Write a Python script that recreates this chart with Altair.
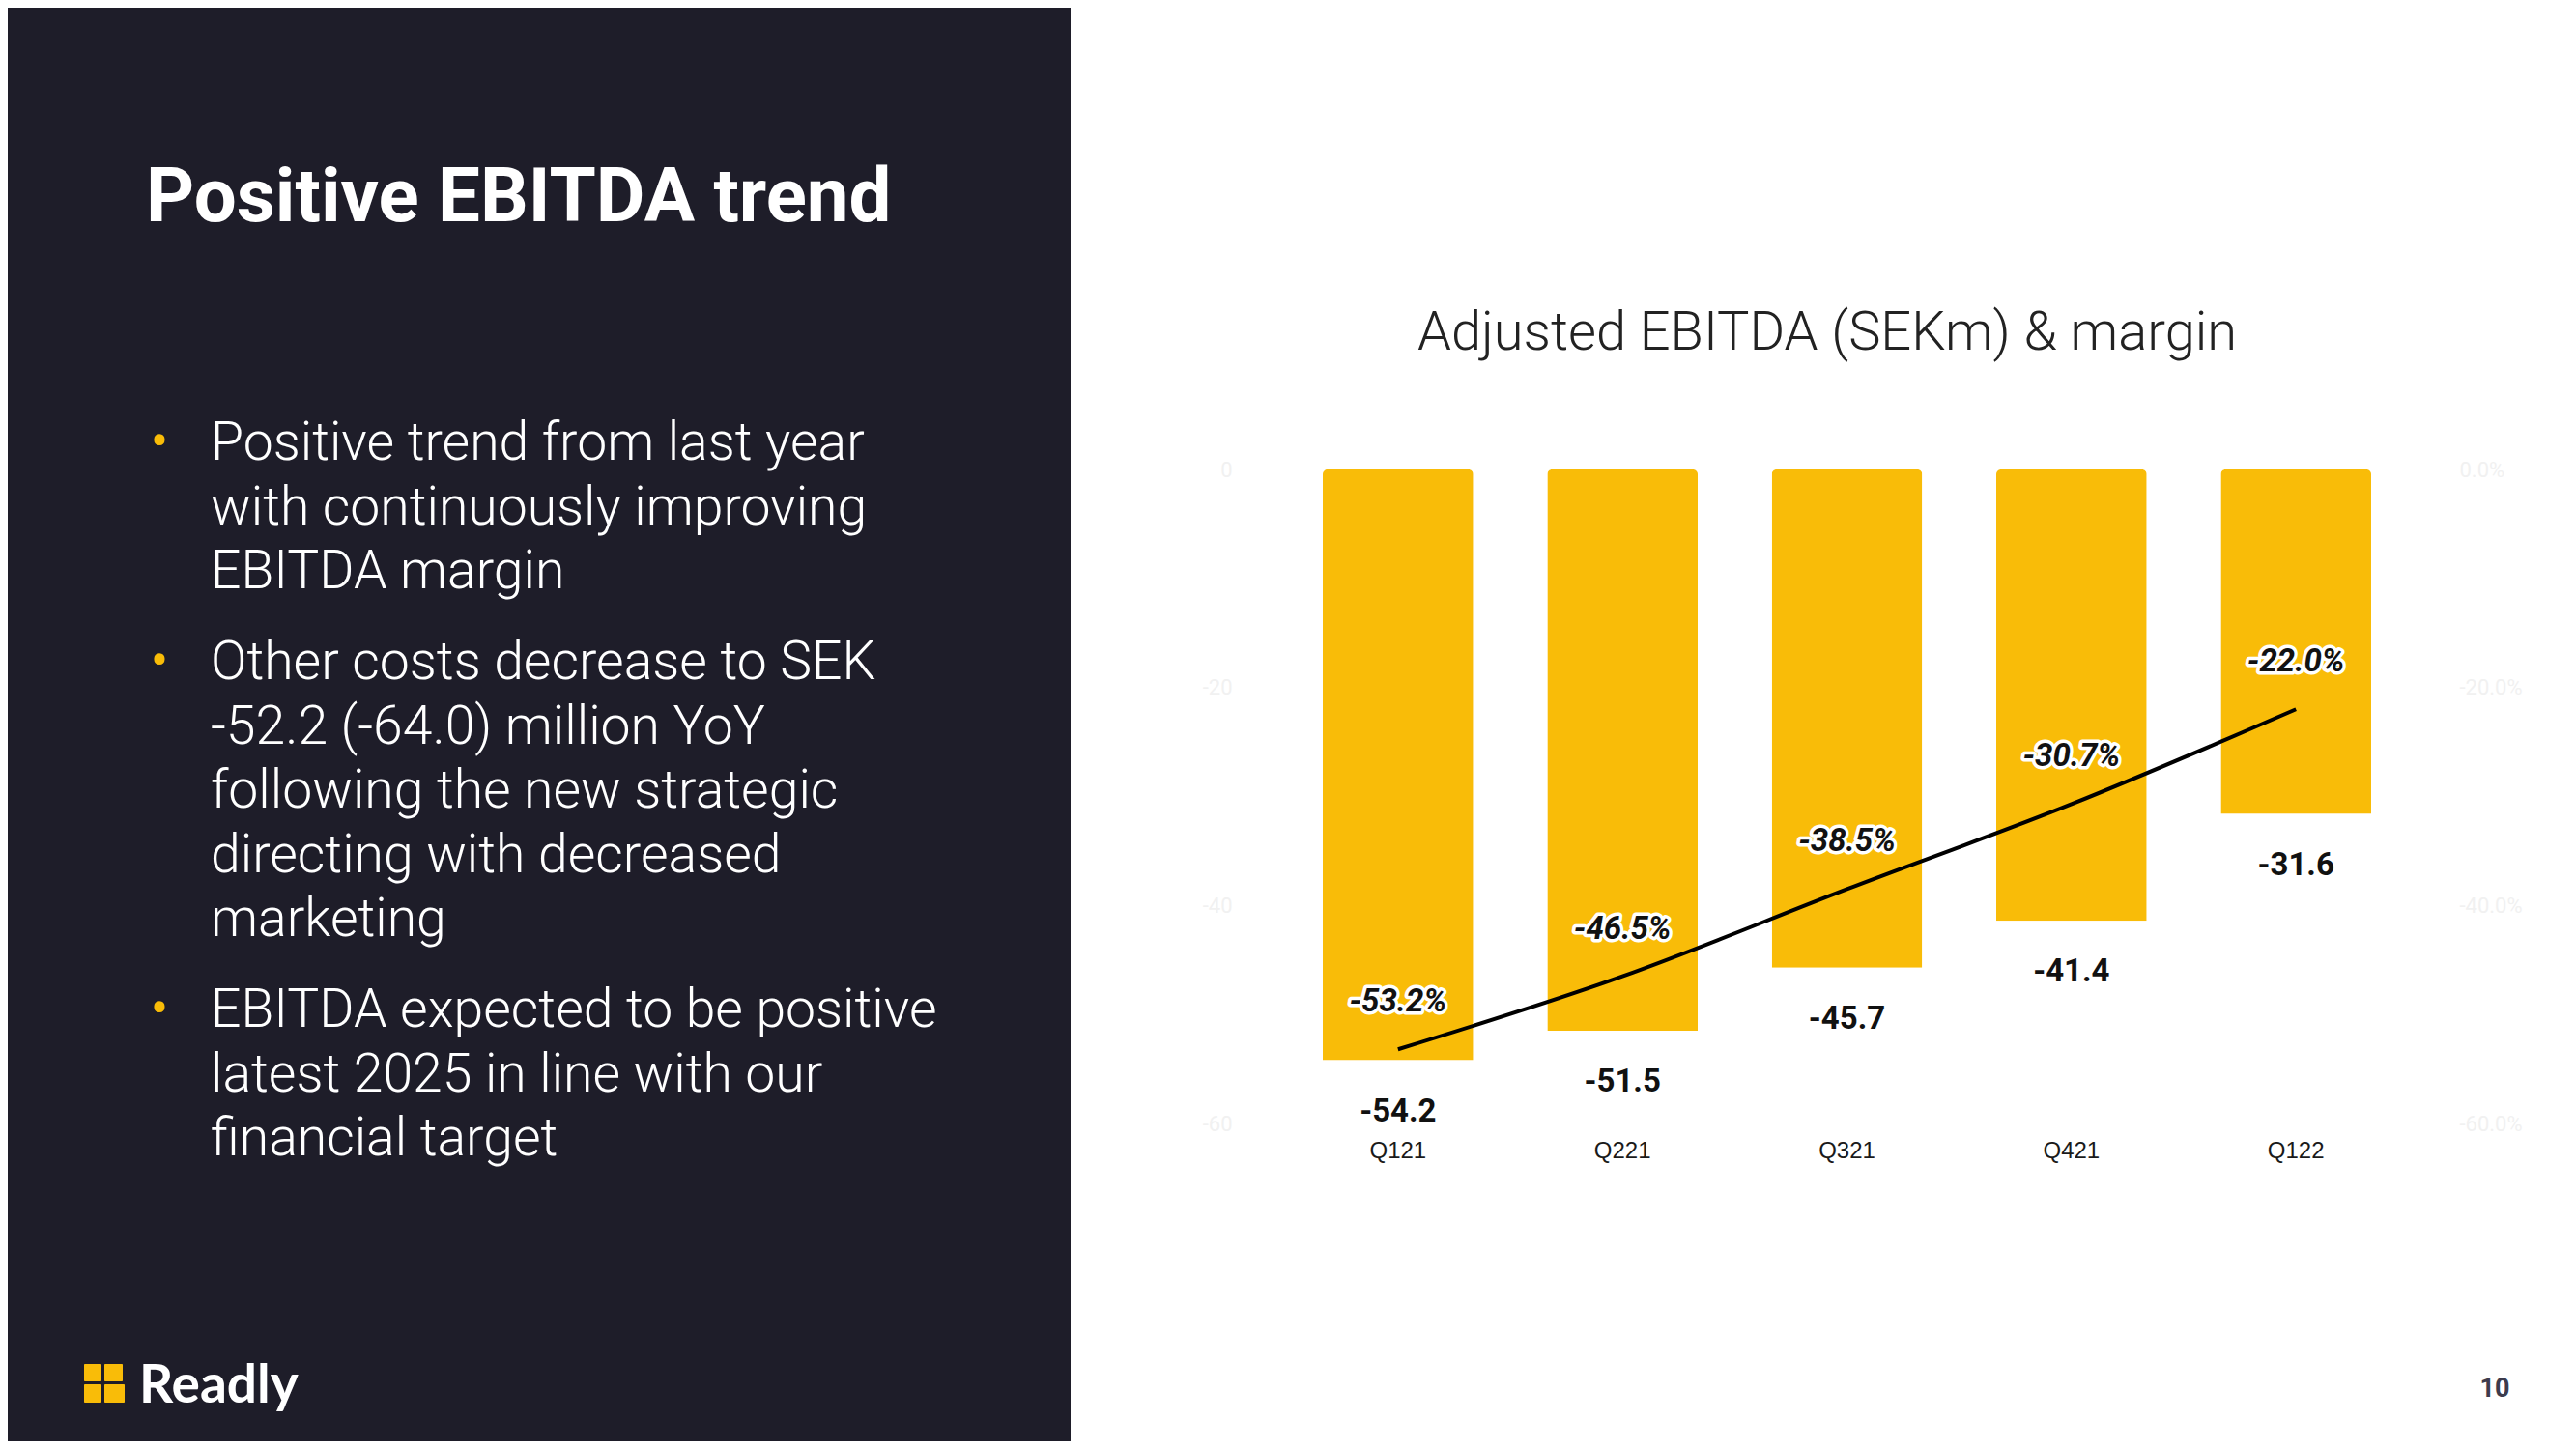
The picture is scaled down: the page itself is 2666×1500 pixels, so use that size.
import altair as alt
import pandas as pd

# ---------------- data ----------------
quarters = ["Q121", "Q221", "Q321", "Q421", "Q122"]
ebitda = [-54.2, -51.5, -45.7, -41.4, -31.6]
margin = [-53.2, -46.5, -38.5, -30.7, -22.0]
y_ticks = [0, -20, -40, -60]

slide_title = "Positive EBITDA trend"
chart_title = "Adjusted EBITDA (SEKm) & margin"
bullets = [
    ["Positive trend from last year", "with continuously improving", "EBITDA margin"],
    ["Other costs decrease to SEK", "-52.2 (-64.0) million YoY", "following the new strategic",
     "directing with decreased", "marketing"],
    ["EBITDA expected to be positive", "latest 2025 in line with our", "financial target"],
]
logo_text = "Readly"
page_number = "10"

# ---------------- styles / layout ----------------
YELLOW = "#F9BC08"
DARK = "#1E1D29"
PLOT_L, PLOT_T = 1290, 486      # screen position of plot area
PLOT_W, PLOT_H = 1243, 677
CANVAS_W, CANVAS_H = 2650, 1484
MARGIN = 8


def px(X):
    return X - PLOT_L


def py(Y):
    return Y - PLOT_T


df = pd.DataFrame({"quarter": quarters, "ebitda": ebitda, "margin": margin})
df["ebitda_label"] = [f"{v:.1f}" for v in ebitda]
df["margin_label"] = [f"{v:.1f}%" for v in margin]
one = pd.DataFrame({"k": [0]})

# ---------------- decoration ----------------
panel = alt.Chart(one).mark_rect(color=DARK).encode(
    x=alt.value(px(-20)), x2=alt.value(px(1108)),
    y=alt.value(py(-20)), y2=alt.value(py(1520)))

title_mark = alt.Chart(one).mark_text(
    text=slide_title, font="Roboto", fontWeight="bold", fontSize=78,
    color="white", align="left", baseline="alphabetic"
).encode(x=alt.value(px(151)), y=alt.value(py(229)))

bullet_layers = []
block_baselines = [476, 703, 1063]
for lines, base_y in zip(bullets, block_baselines):
    bullet_layers.append(alt.Chart(one).mark_text(
        text="•", font="Roboto", fontSize=55, color=YELLOW,
        align="center", baseline="alphabetic"
    ).encode(x=alt.value(px(165)), y=alt.value(py(base_y))))
    bullet_layers.append(alt.Chart(one).mark_text(
        text=lines, font="Roboto", fontWeight=300, fontSize=55.3, lineHeight=66.5,
        color="white", align="left", baseline="alphabetic"
    ).encode(x=alt.value(px(218)), y=alt.value(py(base_y))))

chart_title_mark = alt.Chart(one).mark_text(
    text=chart_title, font="Roboto", fontWeight=300, fontSize=56,
    color="#222222", align="center", baseline="alphabetic"
).encode(x=alt.value(px(1891)), y=alt.value(py(362)))

logo_rects = []
for (x0, x1, y0, y1) in [(87, 105, 1412, 1430), (108, 127, 1412, 1430),
                         (87, 105, 1433, 1452), (108, 129, 1433, 1452)]:
    logo_rects.append(alt.Chart(one).mark_rect(color=YELLOW, cornerRadius=1).encode(
        x=alt.value(px(x0)), x2=alt.value(px(x1)),
        y=alt.value(py(y0)), y2=alt.value(py(y1))))

logo_mark = alt.Chart(one).mark_text(
    text=logo_text, font="Lato", fontWeight="bold", fontSize=55,
    color="white", align="left", baseline="alphabetic"
).encode(x=alt.value(px(144)), y=alt.value(py(1452)))

page_mark = alt.Chart(one).mark_text(
    text=page_number, font="Roboto", fontWeight="bold", fontSize=27,
    color="#3D3B4C", align="center", baseline="middle"
).encode(x=alt.value(px(2582)), y=alt.value(py(1438)))

# ---------------- chart ----------------
base = alt.Chart(df)
x_enc = alt.X("quarter:N", sort=quarters,
              scale=alt.Scale(paddingInner=0.33, paddingOuter=0.34),
              axis=alt.Axis(title=None, domain=False, ticks=False, labelAngle=0,
                            labelFontSize=24, labelColor="#1a1a1a",
                            labelFont="Liberation Sans", labelPadding=16))
ydom = alt.Scale(domain=[-60, 0], nice=False)

y_left = alt.Y("ebitda:Q", scale=ydom, axis=alt.Axis(
    orient="left", values=y_ticks, title=None, grid=False, domain=False, ticks=False,
    labelFontSize=22, labelColor="#f1f1f1", labelPadding=15, labelFont="Roboto",
    labelExpr="(datum.value < 0 ? '-' : '') + abs(datum.value)"))
y_right = alt.Y("margin:Q", scale=ydom, axis=alt.Axis(
    orient="right", values=y_ticks, title=None, grid=False, domain=False, ticks=False,
    labelFontSize=22, labelColor="#f1f1f1", labelPadding=12, labelFont="Roboto",
    labelExpr="(datum.value < 0 ? '-' : '') + format(abs(datum.value), '.1f') + '%'"))

bars = base.mark_bar(color=YELLOW, cornerRadiusEnd=5).encode(x=x_enc, y=y_left)
line = base.mark_line(color="black", strokeWidth=4, interpolate="monotone").encode(
    x=x_enc, y=y_right)


def labels(field, text_field, dy, italic, halo):
    kw = dict(font="Roboto", fontWeight="bold", fontSize=33, dy=dy,
              align="center", baseline="middle")
    if italic:
        kw["fontStyle"] = "italic"
    if halo:
        kw.update(fill="white", stroke="white", strokeWidth=7, strokeJoin="round")
    else:
        kw.update(fill="#111111")
    return base.mark_text(**kw).encode(
        x=x_enc, y=alt.Y(f"{field}:Q", scale=ydom, axis=None),
        text=f"{text_field}:N")


layers = [panel, title_mark] + bullet_layers + [chart_title_mark] + logo_rects + [
    logo_mark, page_mark, bars, line,
    labels("ebitda", "ebitda_label", 53, False, True),
    labels("ebitda", "ebitda_label", 53, False, False),
    labels("margin", "margin_label", -49, True, True),
    labels("margin", "margin_label", -49, True, False),
]

chart = alt.layer(*layers).resolve_scale(y="independent").properties(
    width=PLOT_W, height=PLOT_H,
    padding={"left": PLOT_L - MARGIN, "top": PLOT_T - MARGIN,
             "right": CANVAS_W - (PLOT_L - MARGIN) - PLOT_W,
             "bottom": CANVAS_H - (PLOT_T - MARGIN) - PLOT_H},
    autosize=alt.AutoSizeParams(type="none"),
    background="white",
).configure_view(stroke=None)

chart.save("out.html", embed_options={"renderer": "svg", "actions": False})
